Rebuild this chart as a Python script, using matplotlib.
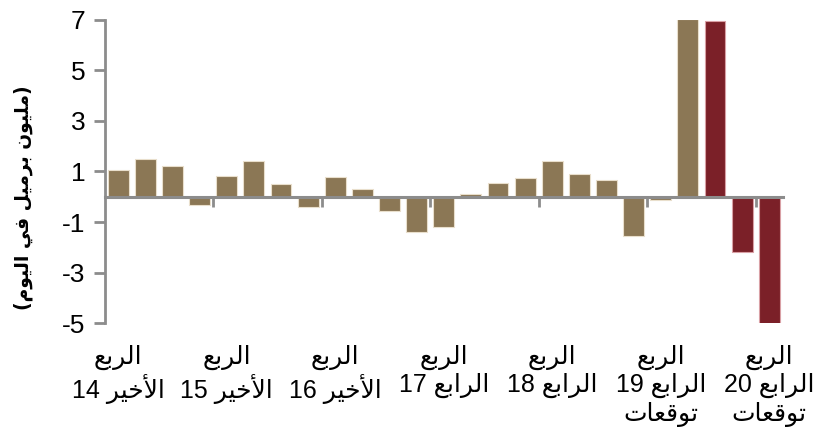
import matplotlib
matplotlib.use("Agg")
import matplotlib.pyplot as plt
import matplotlib.transforms as mtransforms
import numpy as np

# quarterly change, million barrels per day
values = [1.04, 1.49, 1.20, -0.32, 0.84, 1.40, 0.49, -0.42, 0.78, 0.29, -0.57, -1.40,
          -1.20, 0.10, 0.53, 0.73, 1.40, 0.89, 0.68, -1.55, -0.13, 7.04, 6.95, -2.20, -5.05]
forecast_from = 22  # bars from here on are drawn in the second colour

# Arabic strings are stored as presentation forms in visual (left-to-right) order,
# since matplotlib does no shaping or bidi reordering itself.
RUB = "\ufeca\ufe91\ufeae\ufedf\ufe8d"              # الربع
AKHIR = "\ufeae\ufef4\ufea7\ufef7\ufe8d"            # الأخير
RABI = "\ufeca\ufe91\ufe8d\ufeae\ufedf\ufe8d"       # الرابع
TAWAQQUAT = "\ufe95\ufe8e\ufecc\ufed7\ufeee\ufe97"  # توقعات

label_pos = [0, 4, 8, 12, 16, 20, 24]
label_text = [
    RUB + "\n14 " + AKHIR,
    RUB + "\n15 " + AKHIR,
    RUB + "\n16 " + AKHIR,
    RUB + "\n17 " + RABI,
    RUB + "\n18 " + RABI,
    RUB + "\n19 " + RABI + "\n" + TAWAQQUAT,
    RUB + "\n20 " + RABI + "\n" + TAWAQQUAT,
]

# (مليون برميل في اليوم)
ylabel = ("(" + "\ufee1\ufeee\ufef4\ufedf\ufe8d" + " " + "\ufef2\ufed3" + " "
          + "\ufede\ufef4\ufee3\ufeae\ufe91" + " " + "\ufee5\ufeee\ufef4\ufee0\ufee3" + ")")

yticks = [-5, -3, -1, 1, 3, 5, 7]

brown = "#8b7755"
red = "#7b2028"
grey = "#8c8c8c"
fonts = ["Liberation Sans", "DejaVu Sans"]

plt.rcParams["font.family"] = fonts

fig = plt.figure(figsize=(8.18, 4.42), dpi=100)
ax = fig.add_axes([0.128, 0.269, 0.829, 0.686])

x = np.arange(len(values))
colors = [brown if i < forecast_from else red for i in x]
edges = ["#e9dfcc" if i < forecast_from else "#d9a0a5" for i in x]
ax.bar(x, values, width=0.77, color=colors, edgecolor=edges, linewidth=0.8, zorder=2)

ax.set_xlim(-0.5, len(values) - 0.5)
ax.set_ylim(-5, 7)
ax.set_yticks(yticks)
ax.set_yticklabels([str(v) for v in yticks], fontsize=19)

for s in ["top", "right"]:
    ax.spines[s].set_visible(False)
ax.spines["left"].set_color(grey)
ax.spines["left"].set_linewidth(2)
ax.spines["bottom"].set_position(("data", 0))
ax.spines["bottom"].set_color(grey)
ax.spines["bottom"].set_linewidth(2.2)
ax.spines["bottom"].set_zorder(3)

ax.tick_params(axis="y", direction="out", length=8, width=2, color=grey, pad=6)
ax.set_xticks(np.arange(3.5, len(values) - 0.5, 4))
ax.set_xticklabels([])
ax.tick_params(axis="x", direction="out", length=7, width=2, color=grey)

trans = mtransforms.blended_transform_factory(ax.transData, ax.transAxes)
for p, t in zip(label_pos, label_text):
    ax.text(p, -0.07, t, transform=trans, ha="center", va="top",
            fontsize=18, linespacing=1.18, multialignment="center", family=fonts)

ax.set_ylabel(ylabel, fontsize=13.5, fontweight="bold", family=["DejaVu Sans"])
ax.yaxis.set_label_coords(-0.106, 0.415)

fig.savefig("out.png", dpi=100)
